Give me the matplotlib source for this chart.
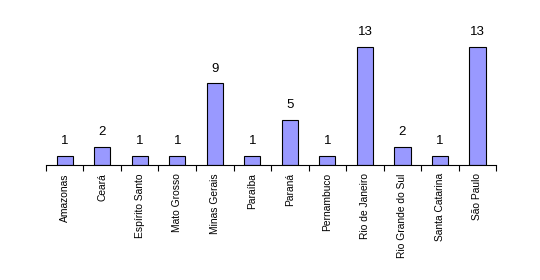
import matplotlib
matplotlib.use("Agg")
import matplotlib.pyplot as plt
import numpy as np

estados = ["Amazonas", "Ceará", "Espírito Santo", "Mato Grosso", "Minas Gerais",
           "Paraíba", "Paraná", "Pernambuco", "Rio de Janeiro",
           "Rio Grande do Sul", "Santa Catarina", "São Paulo"]
valores = [1, 2, 1, 1, 9, 1, 5, 1, 13, 2, 1, 13]

plt.rcParams['font.family'] = ['Liberation Sans', 'DejaVu Sans']

fig = plt.figure(figsize=(5.4, 2.8), dpi=100)
ax = fig.add_axes([0.085, 0.411, 0.834, 0.518])

x = np.arange(len(estados))
ax.bar(x, valores, width=0.43, color="#9999FF", edgecolor="black", linewidth=0.8)
for xi, v in zip(x, valores):
    ax.text(xi, v + 0.95, str(v), ha="center", va="bottom", fontsize=9.5)

ax.set_xlim(-0.5, len(estados) - 0.5)
ax.set_ylim(0, 16)
for s in ["top", "right", "left"]:
    ax.spines[s].set_visible(False)
ax.spines["bottom"].set_linewidth(0.8)
ax.set_yticks([])

# ticks between categories, labels centered under bars
ax.set_xticks(np.arange(-0.5, len(estados), 1.0))
ax.set_xticklabels([])
ax.set_xticks(x, minor=True)
ax.set_xticklabels(estados, minor=True, rotation=90, fontsize=7.4, va="top")
ax.tick_params(axis="x", which="major", direction="out", length=4, width=0.8)
ax.tick_params(axis="x", which="minor", length=0, pad=6)

fig.savefig("out.png", dpi=100)
